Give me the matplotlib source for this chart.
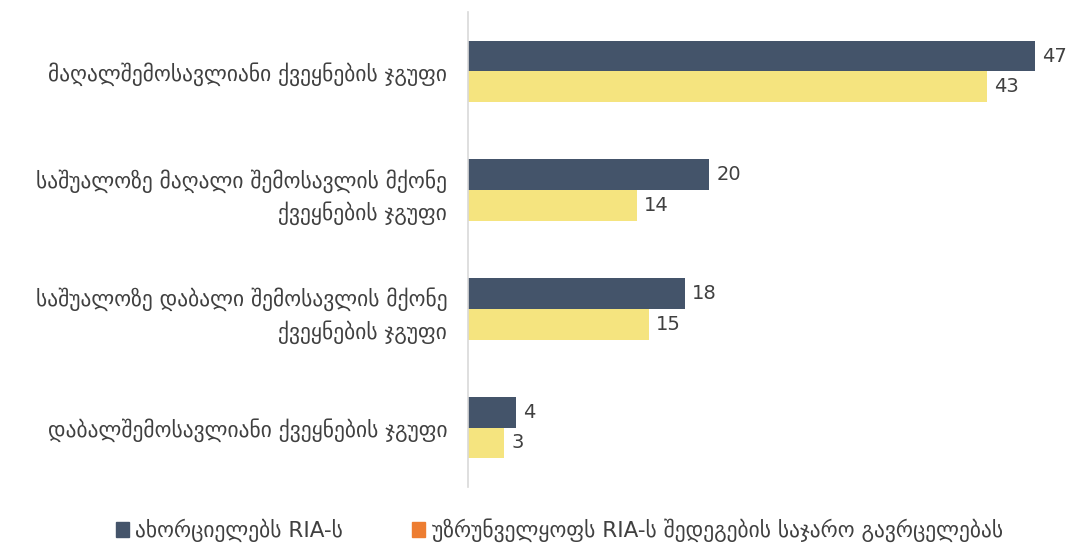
import matplotlib
matplotlib.use("Agg")
import matplotlib.pyplot as plt
from matplotlib.patches import Patch
import numpy as np

categories = [
    "მაღალშემოსავლიანი ქვეყნების ჯგუფი",
    "საშუალოზე მაღალი შემოსავლის მქონე\nქვეყნების ჯგუფი",
    "საშუალოზე დაბალი შემოსავლის მქონე\nქვეყნების ჯგუფი",
    "დაბალშემოსავლიანი ქვეყნების ჯგუფი",
]
series_names = ["ახორციელებს RIA-ს", "უზრუნველყოფს RIA-ს შედეგების საჯარო გავრცელებას"]
implements = [47, 20, 18, 4]
publishes = [43, 14, 15, 3]

plt.rcParams['font.family'] = ['DejaVu Sans']

fig = plt.figure(figsize=(10.8, 5.52), dpi=100)
ax = fig.add_axes([0.4333, 0.118, 0.5584, 0.860])

dark = "#44546A"
yellow = "#F5E47F"
orange = "#ED7D31"
txt = "#404040"

y = np.arange(len(categories))
h = 0.26
b1 = ax.barh(y - h/2, implements, height=h, color=dark)
b2 = ax.barh(y + h/2, publishes, height=h, color=yellow)

for bars, vals in ((b1, implements), (b2, publishes)):
    for bar, v in zip(bars, vals):
        ax.text(bar.get_width() + 0.6, bar.get_y() + bar.get_height()/2, str(v),
                va='center', ha='left', fontsize=14, color=txt)

ax.set_ylim(len(categories) - 0.5, -0.5)
ax.set_xlim(0, 50)
ax.set_yticks(y)
ax.set_yticklabels(categories, fontsize=15.5, color=txt, linespacing=1.45)
ax.tick_params(axis='y', length=0, pad=15)
ax.set_xticks([])
for s in ['top', 'right', 'bottom']:
    ax.spines[s].set_visible(False)
ax.spines['left'].set_color("#D9D9D9")
ax.spines['left'].set_linewidth(1.2)

handles = [Patch(color=dark), Patch(color=orange)]
fig.legend(handles, series_names, loc='center', bbox_to_anchor=(0.518, 0.04), ncol=2,
           frameon=False, fontsize=15.5, handlelength=0.6, handleheight=0.7,
           handletextpad=0.3, columnspacing=3.2, labelcolor=txt)

fig.savefig("out.png", dpi=100)
